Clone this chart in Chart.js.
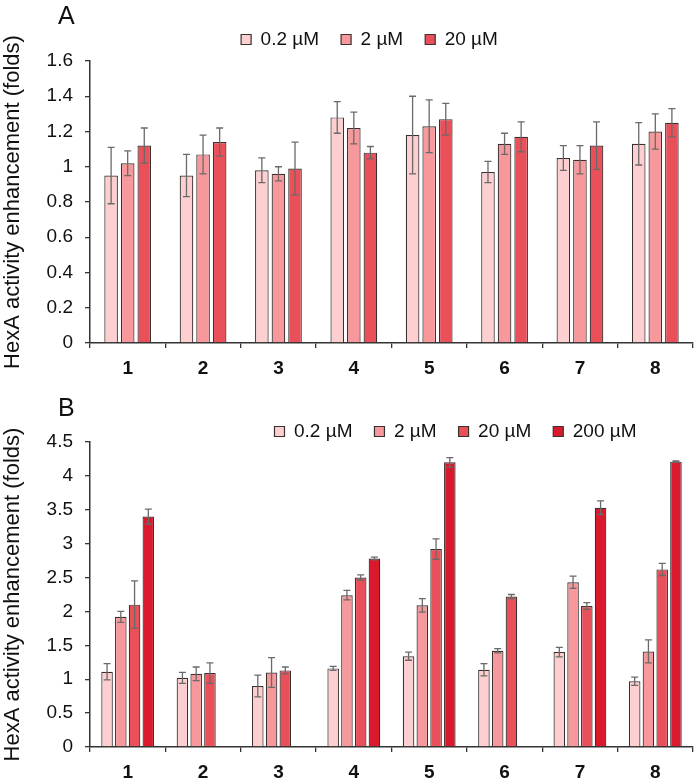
<!DOCTYPE html>
<html>
<head>
<meta charset="utf-8">
<script src="https://cdn.jsdelivr.net/npm/chart.js@4.4.1/dist/chart.umd.min.js"></script>
<style>
  body { margin: 0; background: #fff; }
  #wrap { position: relative; width: 700px; height: 783px; }
  canvas { position: absolute; left: 0; }
  #cA { top: 0; }
  #cB { top: 390px; }
  .tag { position: absolute; font-family: "Liberation Sans", Arial, sans-serif; font-size: 25px; color: #111; }
</style>
</head>
<body>
<div id="wrap">
  <canvas id="cA" width="700" height="390"></canvas>
  <canvas id="cB" width="700" height="393"></canvas>
  <div class="tag" style="left:58px; top:1px;">A</div>
  <div class="tag" style="left:58px; top:393px;">B</div>
</div>
<script>
// categories
var cats = ['1', '2', '3', '4', '5', '6', '7', '8'];

// panel A
var a02 = [0.95, 0.95, 0.98, 1.28, 1.18, 0.97, 1.05, 1.13];
var a02Err = [0.16, 0.12, 0.07, 0.09, 0.22, 0.06, 0.07, 0.12];
var a2 = [1.02, 1.07, 0.96, 1.22, 1.23, 1.13, 1.04, 1.20];
var a2Err = [0.07, 0.11, 0.04, 0.09, 0.15, 0.06, 0.08, 0.10];
var a20 = [1.12, 1.14, 0.99, 1.08, 1.27, 1.17, 1.12, 1.25];
var a20Err = [0.10, 0.08, 0.15, 0.035, 0.09, 0.085, 0.135, 0.08];

// panel B
var b02 = [1.11, 1.02, 0.90, 1.16, 1.34, 1.14, 1.40, 0.97];
var b02Err = [0.12, 0.08, 0.16, 0.03, 0.06, 0.09, 0.07, 0.06];
var b2 = [1.92, 1.08, 1.10, 2.24, 2.09, 1.42, 2.43, 1.41];
var b2Err = [0.08, 0.10, 0.22, 0.07, 0.10, 0.03, 0.09, 0.17];
var b20 = [2.10, 1.09, 1.13, 2.50, 2.92, 2.22, 2.08, 2.62];
var b20Err = [0.35, 0.15, 0.05, 0.04, 0.15, 0.03, 0.05, 0.09];
var b200 = [3.40, null, null, 2.78, 4.20, null, 3.53, 4.21];
var b200Err = [0.11, null, null, 0.02, 0.07, null, 0.10, 0.01];

var yTitle = 'HexA activity enhancement (folds)';
var colors = ['#fdcfd0', '#f7999c', '#e9505a', '#d81a2c'];

Chart.defaults.font.family = '"Liberation Sans", Arial, sans-serif';
Chart.defaults.color = '#111';

// error bars drawn at each bar
var errorBars = {
  id: 'errorBars',
  afterDatasetsDraw: function(chart) {
    var ctx = chart.ctx;
    var y = chart.scales.y;
    ctx.save();
    ctx.strokeStyle = '#6a6a6a';
    ctx.lineWidth = 1.3;
    chart.data.datasets.forEach(function(ds, di) {
      var meta = chart.getDatasetMeta(di);
      meta.data.forEach(function(bar, i) {
        var v = ds.data[i], e = ds.errors[i];
        if (v == null || e == null) return;
        var top = y.getPixelForValue(v + e), bot = y.getPixelForValue(v - e);
        ctx.beginPath();
        ctx.moveTo(bar.x, top); ctx.lineTo(bar.x, bot);
        ctx.moveTo(bar.x - 3.5, top); ctx.lineTo(bar.x + 3.5, top);
        ctx.moveTo(bar.x - 3.5, bot); ctx.lineTo(bar.x + 3.5, bot);
        ctx.stroke();
      });
    });
    ctx.restore();
  }
};

// move legend box without changing chart area
var legendShift = {
  id: 'legendShift',
  afterLayout: function(chart, args, opts) {
    var lg = chart.legend;
    lg.left += opts.dx; lg.right += opts.dx;
    lg.top += opts.dy; lg.bottom += opts.dy;
  }
};

function makeChart(id, datasets, max, step, catPct, barPct, shift, padTop, xAxisH) {
  return new Chart(document.getElementById(id), {
    type: 'bar',
    data: { labels: cats, datasets: datasets },
    plugins: [errorBars, legendShift],
    options: {
      responsive: false,
      animation: false,
      layout: { padding: { top: padTop, right: 7, left: 0, bottom: 0 } },
      datasets: { bar: { categoryPercentage: catPct, barPercentage: barPct } },
      plugins: {
        legend: {
          labels: { boxWidth: 10, boxHeight: 10, padding: 22, font: { size: 19 } }
        },
        legendShift: shift,
        tooltip: { enabled: false }
      },
      scales: {
        x: {
          grid: { drawOnChartArea: false, tickLength: 5, color: '#333', lineWidth: 1.3 },
          border: { color: '#333', width: 1.5 },
          ticks: { padding: 9, font: { size: 19, weight: 'bold' } },
          afterFit: function(s) { s.height = xAxisH; }
        },
        y: {
          min: 0, max: max,
          grid: { drawOnChartArea: false, tickLength: 5, color: '#333', lineWidth: 1.3 },
          border: { color: '#333', width: 1.5 },
          ticks: { stepSize: step, padding: 12, font: { size: 19 },
            callback: function(v) { return String(+v.toFixed(1)); } },
          title: { display: true, text: yTitle, font: { size: 22 }, padding: { top: 0, bottom: 0 } },
          afterFit: function(s) { s.width = 90; }
        }
      }
    }
  });
}

function ds(label, data, errs, color) {
  return { label: label, data: data, errors: errs, backgroundColor: color,
    borderColor: '#3a3030', borderWidth: 1.2 };
}

makeChart('cA', [
  ds('0.2 µM', a02, a02Err, colors[0]),
  ds('2 µM', a2, a2Err, colors[1]),
  ds('20 µM', a20, a20Err, colors[2])
], 1.6, 0.2, 0.66, 0.82, { dx: 23, dy: -2 }, 10, 47);

makeChart('cB', [
  ds('0.2 µM', b02, b02Err, colors[0]),
  ds('2 µM', b2, b2Err, colors[1]),
  ds('20 µM', b20, b20Err, colors[2]),
  ds('200 µM', b200, b200Err, colors[3])
], 4.5, 0.5, 0.73, 0.84, { dx: 109, dy: 9 }, 1, 36);
</script>
</body>
</html>
